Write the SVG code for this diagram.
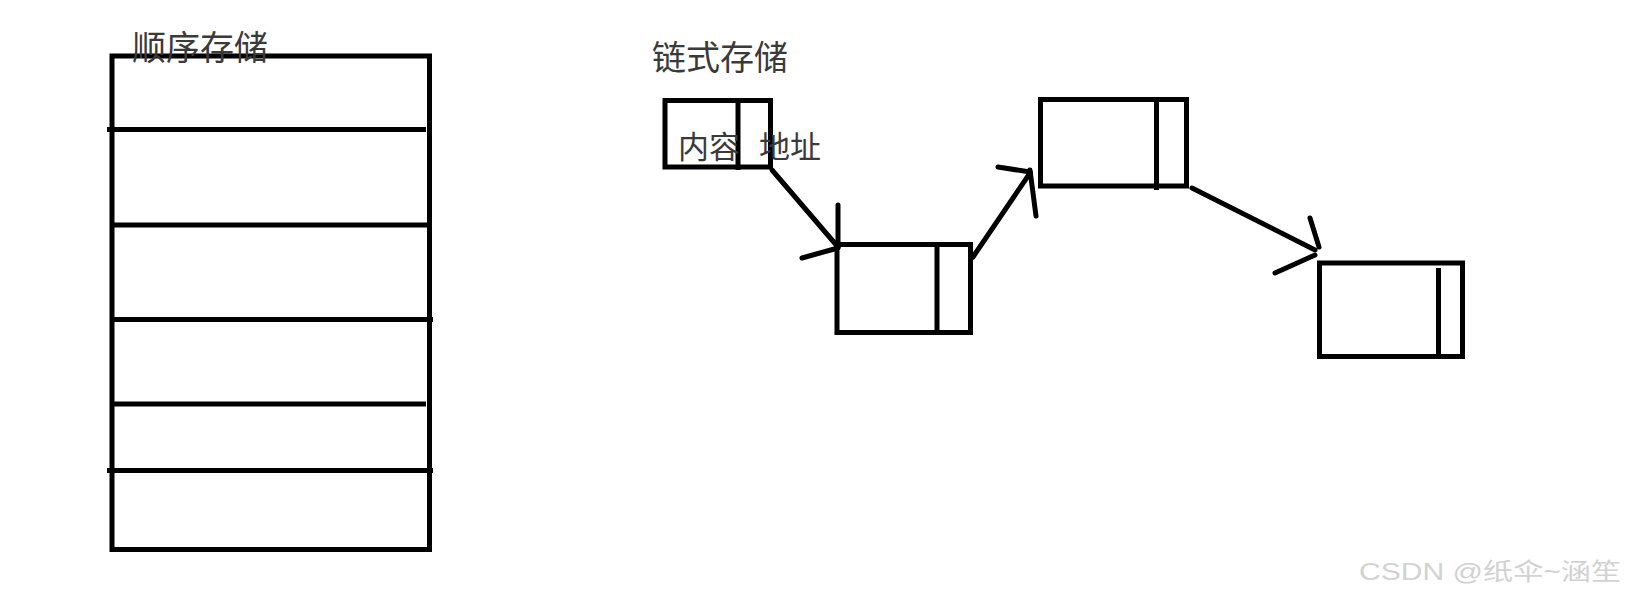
<svg xmlns="http://www.w3.org/2000/svg" width="1627" height="600" viewBox="0 0 1627 600">
  <style>
    .box { fill: none; stroke: #000; stroke-width: 5; }
    .ln { stroke: #000; stroke-width: 5; fill: none; }
    .arr { stroke: #000; stroke-width: 5; fill: none; stroke-linecap: round; }
    .cn { font-family: "Noto Sans CJK SC", "Noto Sans", sans-serif; fill: #3a3a3a; }
    .wm { font-family: "Liberation Sans", "Noto Sans CJK SC", sans-serif; fill: #d2d2d2; font-size: 24px; }
  </style>
  <rect width="1627" height="600" fill="#fff"/>

  <g id="sequential-storage">
    <rect class="box" x="112" y="56" width="317.5" height="493.5"/>
    <line class="ln" x1="107" y1="129.5" x2="426" y2="129.5"/>
    <line class="ln" x1="112" y1="225" x2="427.5" y2="225"/>
    <line class="ln" x1="112" y1="319.5" x2="433" y2="319.5"/>
    <line class="ln" x1="112" y1="404" x2="426" y2="404"/>
    <line class="ln" x1="107" y1="470.5" x2="433" y2="470.5"/>
    <text class="cn" x="132" y="60" font-size="34">顺序存储</text>
  </g>

  <g id="linked-title">
    <text class="cn" x="652" y="70" font-size="34">链式存储</text>
  </g>

  <g id="node-1">
    <rect class="box" x="665" y="100.5" width="105.5" height="66.5"/>
    <line class="ln" x1="738" y1="100.5" x2="738" y2="170"/>
    <text class="cn" font-size="31" y="158"><tspan x="678">内容</tspan><tspan x="759">地址</tspan></text>
  </g>

  <g id="node-2">
    <rect class="box" x="837" y="244.5" width="133.5" height="88"/>
    <line class="ln" x1="937" y1="244.5" x2="937" y2="332.5"/>
  </g>

  <g id="node-3">
    <rect class="box" x="1040.5" y="99.5" width="146" height="86.5"/>
    <line class="ln" x1="1156.5" y1="99.5" x2="1156.5" y2="190"/>
  </g>

  <g id="node-4">
    <rect class="box" x="1319.5" y="263" width="143" height="93.5"/>
    <line class="ln" x1="1438.5" y1="268" x2="1438.5" y2="355"/>
  </g>

  <g id="connectors">
    <line class="arr" x1="772" y1="170" x2="838" y2="247"/>
    <line class="arr" x1="838" y1="205" x2="838" y2="247"/>
    <line class="arr" x1="802" y1="258" x2="838" y2="248"/>

    <line class="arr" x1="973" y1="257" x2="1030" y2="173"/>
    <line class="arr" x1="998" y1="167" x2="1030" y2="172"/>
    <line class="arr" x1="1030" y1="170" x2="1036" y2="216"/>

    <line class="arr" x1="1192" y1="188" x2="1315" y2="250"/>
    <line class="arr" x1="1310" y1="218" x2="1319" y2="247"/>
    <line class="arr" x1="1275" y1="273" x2="1315" y2="255"/>
  </g>

  <text class="wm" x="1359" y="580" textLength="262" lengthAdjust="spacingAndGlyphs">CSDN @纸伞~涵笙</text>
</svg>
